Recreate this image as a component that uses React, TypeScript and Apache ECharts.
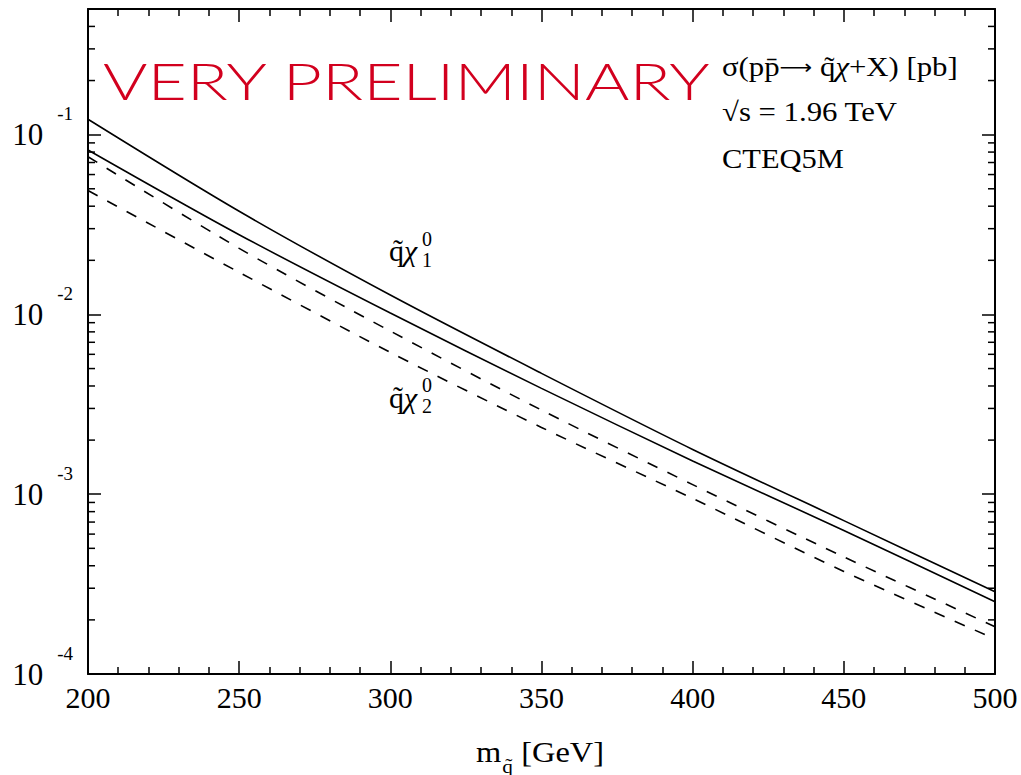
import React, { useEffect, useRef } from 'react';
import * as echarts from 'echarts';

// Squark mass grid [GeV]
const masses = [200, 250, 300, 350, 400, 450, 500];

// Cross sections [pb] for squark + neutralino production
const chi1Upper = [0.1218, 0.03749, 0.01282, 0.004702, 0.001775, 0.000713, 0.000287];
const chi1Lower = [0.0822, 0.02777, 0.01018, 0.00388, 0.001532, 0.000629, 0.000252];
const chi2Upper = [0.0754, 0.02332, 0.00808, 0.002938, 0.001131, 0.000448, 0.0001833];
const chi2Lower = [0.0489, 0.01715, 0.00615, 0.002353, 0.000947, 0.000372, 0.0001566];

// Axis ranges
const xMin = 200;
const xMax = 500;
const xStep = 50;
const yMin = 1e-4;
const yMax = 0.5;

const SERIF = 'Liberation Serif';

// Minor ticks of the logarithmic axis (2..9 x 10^n inside the range)
const logMinorTicks: number[] = [];
for (let d = -4; d <= -1; d++) {
  for (let k = 2; k <= 9; k++) {
    const v = k * Math.pow(10, d);
    if (v > yMin && v < yMax) logMinorTicks.push(v);
  }
}

const pairs = (ys: number[]) => masses.map((m, i) => [m, ys[i]]);

const serifRich = {
  t: { fontFamily: SERIF, fontSize: 27, fill: '#000' },
  c: { fontFamily: SERIF, fontSize: 27, fontStyle: 'italic', fill: '#000' },
  a: { fontFamily: 'DejaVu Sans', fontSize: 20, fill: '#000' },
};

export default function App() {
  const ref = useRef<HTMLDivElement>(null);

  useEffect(() => {
    document.body.style.margin = '0';
    const chart = echarts.init(ref.current!, null, { renderer: 'svg' });

    const axisLine = { show: true, lineStyle: { color: '#000', width: 2 } };
    const majorTick = { show: true, inside: true, length: 13, lineStyle: { color: '#000', width: 1.5 } };
    const xMinor = { show: true, splitNumber: 5, length: 7, lineStyle: { color: '#000', width: 1.5 } };

    const lineSeries = (name: string, ys: number[], dashed: boolean) => ({
      name,
      type: 'line',
      data: pairs(ys),
      xAxisIndex: 0,
      yAxisIndex: 0,
      smooth: 0.3,
      symbol: 'none',
      lineStyle: { color: '#000', width: 1.6, type: dashed ? [11, 11] : 'solid' },
      silent: true,
    });

    const label = (x: number, y: number, sub: string) => [
      {
        type: 'text',
        x,
        y,
        style: {
          text: '{b|q̃}{c|χ}',
          verticalAlign: 'middle',
          rich: {
            b: { fontFamily: SERIF, fontSize: 30, fill: '#000' },
            c: { fontFamily: SERIF, fontSize: 30, fontStyle: 'italic', fill: '#000' },
          },
        },
      },
      { type: 'text', x: x + 33, y: y - 12, style: { text: '0', fontFamily: SERIF, fontSize: 20, fill: '#000', verticalAlign: 'middle' } },
      { type: 'text', x: x + 33, y: y + 9, style: { text: sub, fontFamily: SERIF, fontSize: 20, fill: '#000', verticalAlign: 'middle' } },
    ];

    const option: any = {
      animation: false,
      backgroundColor: '#fff',
      grid: { left: 88, top: 9, width: 907, height: 665, containLabel: false },
      xAxis: [
        {
          type: 'value',
          position: 'bottom',
          min: xMin,
          max: xMax,
          interval: xStep,
          axisLine,
          axisTick: majorTick,
          minorTick: xMinor,
          splitLine: { show: false },
          axisLabel: { color: '#000', fontFamily: SERIF, fontSize: 30, margin: 8 },
        },
        {
          type: 'value',
          position: 'top',
          min: xMin,
          max: xMax,
          interval: xStep,
          axisLine,
          axisTick: majorTick,
          minorTick: xMinor,
          splitLine: { show: false },
          axisLabel: { show: false },
        },
      ],
      yAxis: [
        {
          type: 'log',
          logBase: 10,
          position: 'left',
          min: yMin,
          max: yMax,
          axisLine,
          axisTick: majorTick,
          splitLine: { show: false },
          axisLabel: {
            color: '#000',
            margin: 15,
            showMaxLabel: false,
            formatter: (v: number) => {
              const l = Math.log10(v);
              const e = Math.round(l);
              if (Math.abs(l - e) > 1e-6) return '';
              return `{b|10}{s|${e}}`;
            },
            rich: {
              b: { fontFamily: SERIF, fontSize: 31, lineHeight: 31, color: '#000' },
              s: { fontFamily: SERIF, fontSize: 19, lineHeight: 19, color: '#000', padding: [0, 0, 42, 14] },
            },
          },
        },
        {
          type: 'log',
          logBase: 10,
          position: 'right',
          min: yMin,
          max: yMax,
          axisLine,
          axisTick: majorTick,
          splitLine: { show: false },
          axisLabel: { show: false },
        },
      ],
      series: [
        lineSeries('q̃χ₁⁰ a', chi1Upper, false),
        lineSeries('q̃χ₁⁰ b', chi1Lower, false),
        lineSeries('q̃χ₂⁰ a', chi2Upper, true),
        lineSeries('q̃χ₂⁰ b', chi2Lower, true),
        {
          type: 'custom',
          coordinateSystem: 'cartesian2d',
          xAxisIndex: 0,
          yAxisIndex: 0,
          silent: true,
          clip: false,
          data: logMinorTicks.map((v) => [xMin, v]),
          encode: { x: 0, y: 1 },
          renderItem: (params: any, api: any) => {
            const y = api.coord([xMin, api.value(1)])[1];
            const cs = params.coordSys;
            const l = cs.x;
            const r = cs.x + cs.width;
            const st = { stroke: '#000', lineWidth: 1.5 };
            return {
              type: 'group',
              children: [
                { type: 'line', shape: { x1: l, y1: y, x2: l + 7, y2: y }, style: st },
                { type: 'line', shape: { x1: r - 7, y1: y, x2: r, y2: y }, style: st },
              ],
            };
          },
        },
      ],
      graphic: [
        {
          type: 'text',
          x: 103,
          y: 80,
          scaleX: 1.33,
          style: {
            text: 'VERY PRELIMINARY',
            fontFamily: 'Lato',
            fontWeight: 300,
            fontSize: 51,
            fill: '#d2001e',
            verticalAlign: 'middle',
          },
        },
        {
          type: 'text',
          x: 722,
          y: 67,
          scaleX: 1.14,
          style: {
            text: '{t|σ(pp̄}{a|⟶}{t| q̃}{c|χ}{t|+X) [pb]}',
            verticalAlign: 'middle',
            rich: serifRich,
          },
        },
        {
          type: 'text',
          x: 722,
          y: 112,
          scaleX: 1.14,
          style: { text: '√s = 1.96 TeV', fontFamily: SERIF, fontSize: 27, fill: '#000', verticalAlign: 'middle' },
        },
        {
          type: 'text',
          x: 722,
          y: 159,
          scaleX: 1.13,
          style: { text: 'CTEQ5M', fontFamily: SERIF, fontSize: 27, fill: '#000', verticalAlign: 'middle' },
        },
        ...label(389, 250.5, '1'),
        ...label(389, 397, '2'),
        // x-axis title
        {
          type: 'text',
          x: 540,
          y: 753,
          scaleX: 1.12,
          style: {
            text: '{b|m}{s|q̃}{b| [GeV]}',
            fill: '#000',
            align: 'center',
            verticalAlign: 'middle',
            rich: {
              b: { fontFamily: SERIF, fontSize: 29, lineHeight: 29, fill: '#000' },
              s: { fontFamily: SERIF, fontSize: 19, lineHeight: 19, fill: '#000', padding: [26, 0, 0, 1] },
            },
          },
        },
      ],
    };

    chart.setOption(option);
    return () => chart.dispose();
  }, []);

  return (
    <div
      ref={ref}
      style={{ position: 'absolute', left: 0, top: 0, width: 1021, height: 775, background: '#fff' }}
    />
  );
}
